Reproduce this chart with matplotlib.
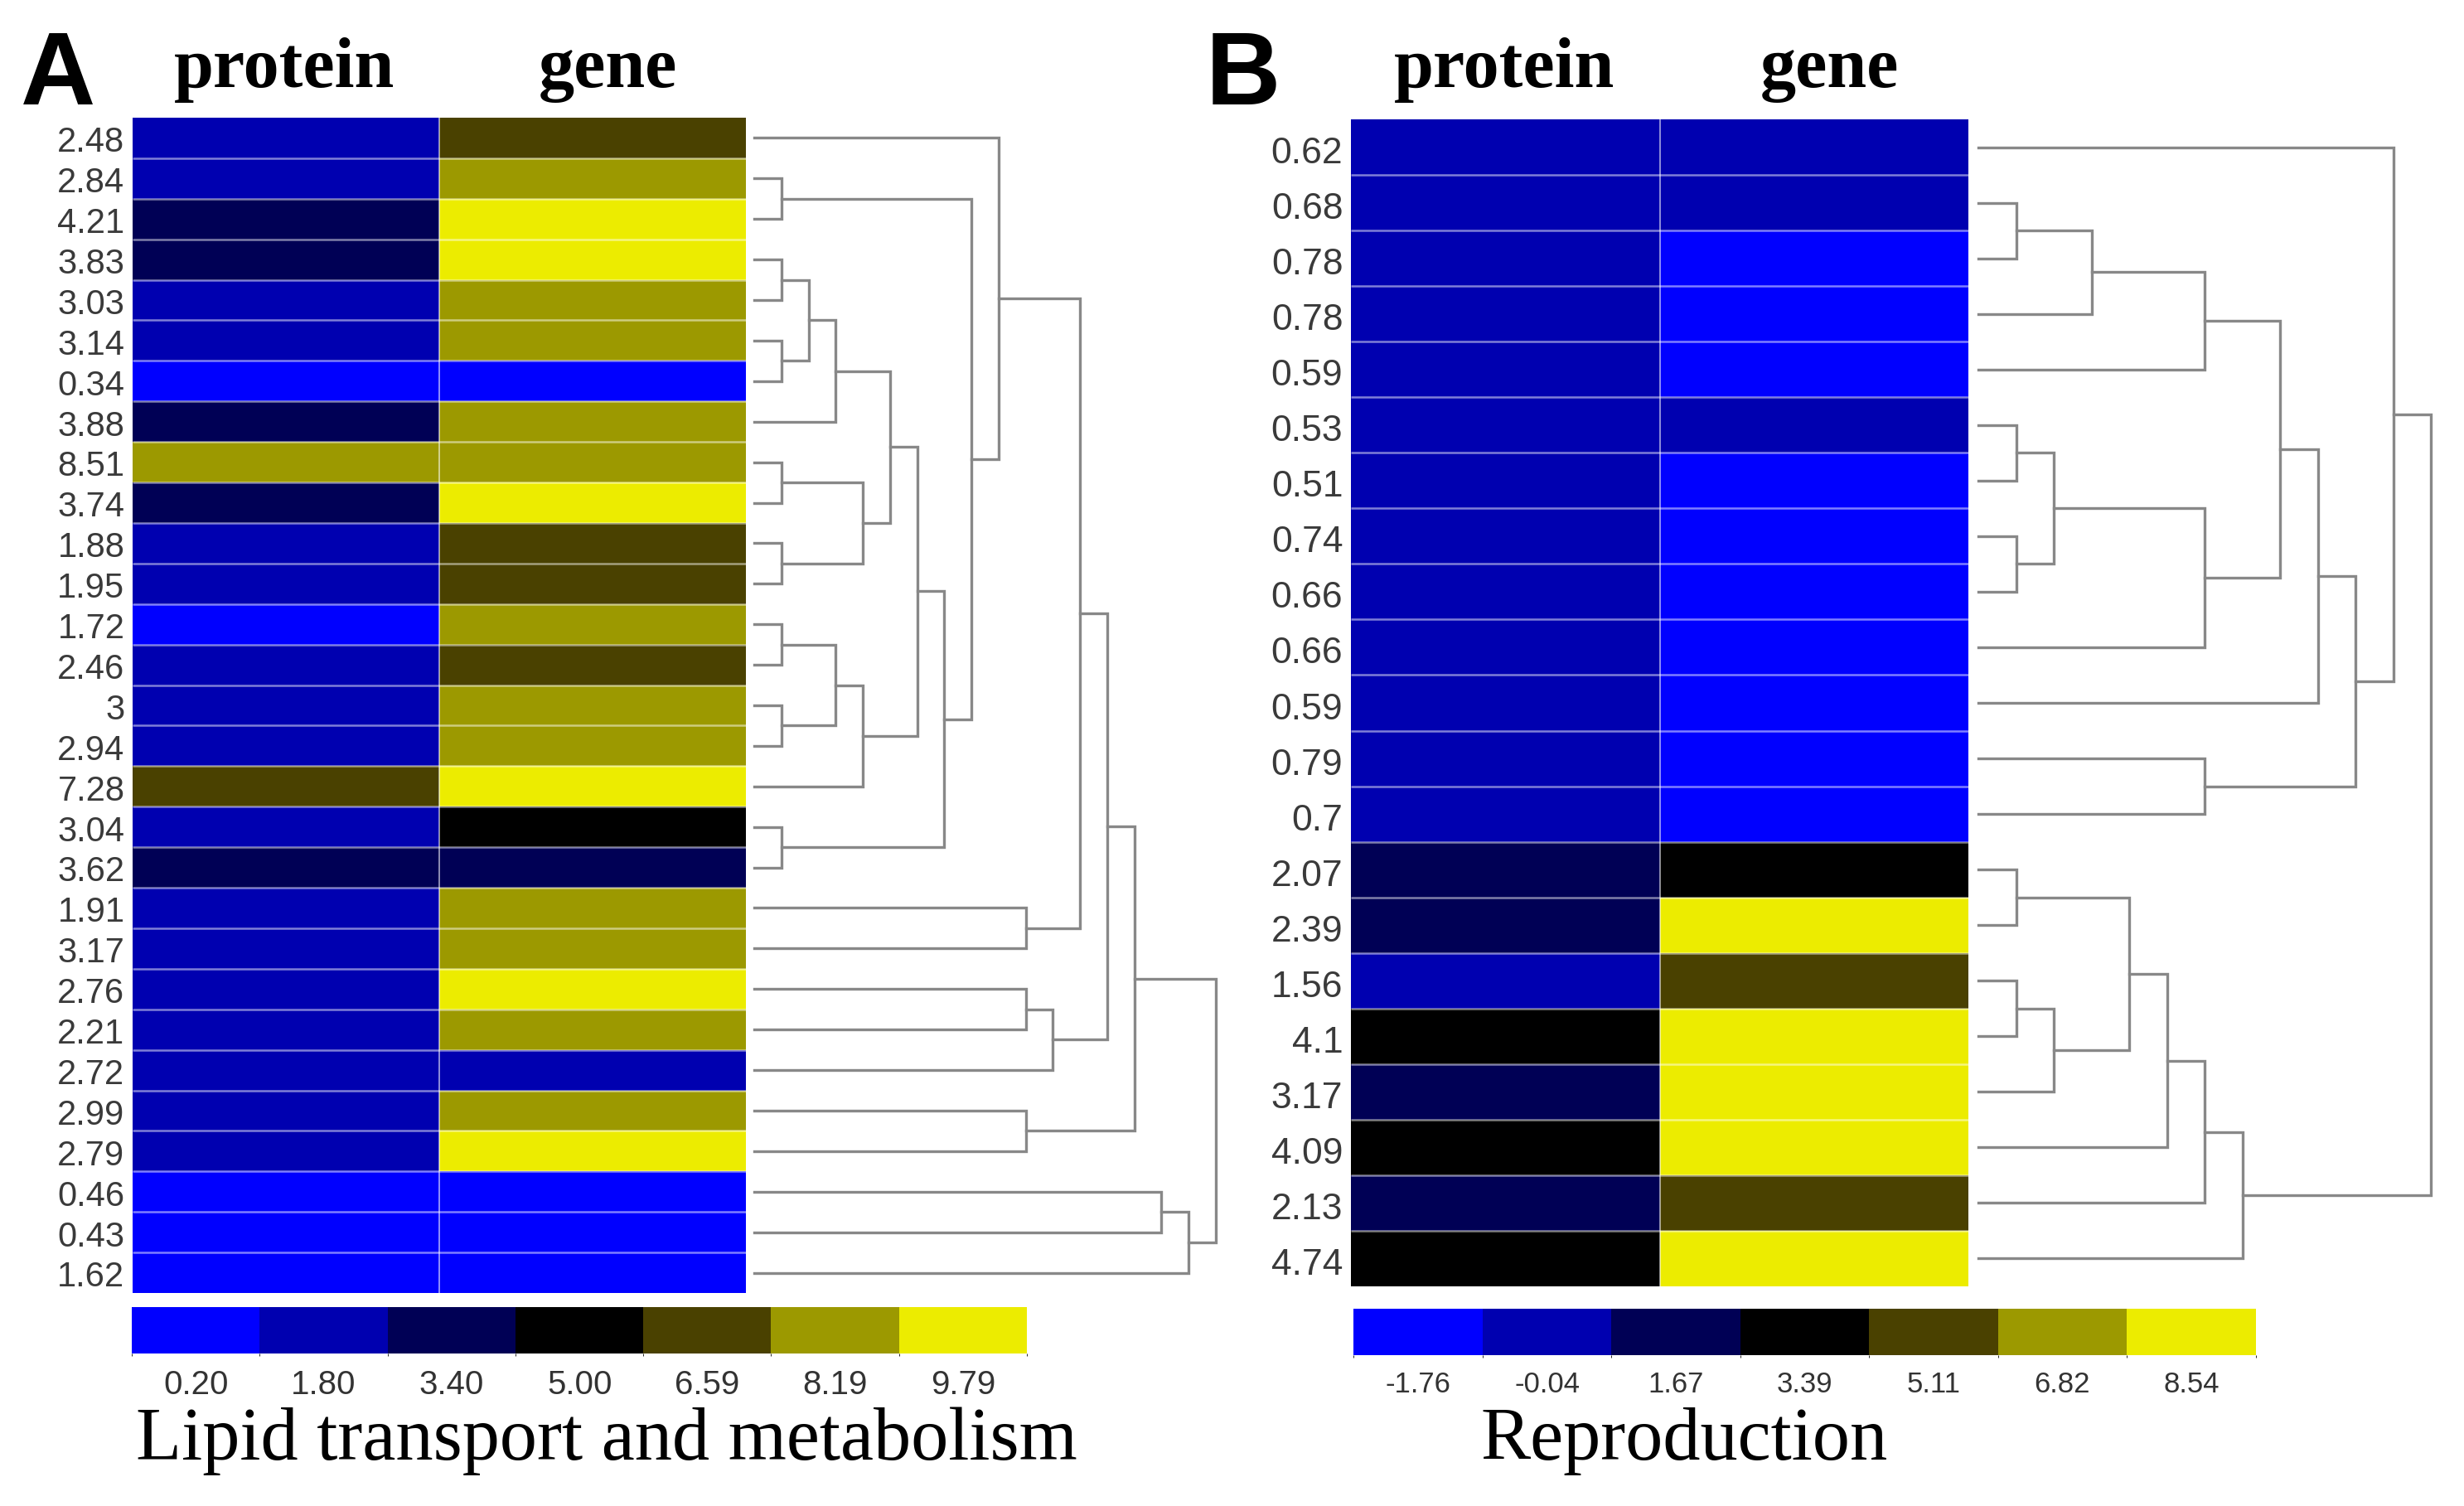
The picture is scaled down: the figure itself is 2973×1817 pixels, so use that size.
import matplotlib
matplotlib.use('Agg')
import matplotlib.pyplot as plt
import numpy as np
from matplotlib.colors import ListedColormap, BoundaryNorm
from matplotlib.cm import ScalarMappable

W, H = 2973, 1817

# 色（青 → 黒 → 黄）
COLORS = ['#0000FF', '#0000B0', '#000055', '#000000', '#4A4100', '#9C9900', '#ECEC00']

# ---- Panel A: Lipid transport and metabolism ----
labels_a = ['2.48', '2.84', '4.21', '3.83', '3.03', '3.14', '0.34', '3.88', '8.51', '3.74',
            '1.88', '1.95', '1.72', '2.46', '3', '2.94', '7.28', '3.04', '3.62', '1.91',
            '3.17', '2.76', '2.21', '2.72', '2.99', '2.79', '0.46', '0.43', '1.62']
protein_a = [1.80, 1.80, 3.40, 3.40, 1.80, 1.80, 0.20, 3.40, 8.19, 3.40,
             1.80, 1.80, 0.20, 1.80, 1.80, 1.80, 6.59, 1.80, 3.40, 1.80,
             1.80, 1.80, 1.80, 1.80, 1.80, 1.80, 0.20, 0.20, 0.20]
gene_a = [6.59, 8.19, 9.79, 9.79, 8.19, 8.19, 0.20, 8.19, 8.19, 9.79,
          6.59, 6.59, 8.19, 6.59, 8.19, 8.19, 9.79, 5.00, 3.40, 8.19,
          8.19, 9.79, 8.19, 1.80, 8.19, 9.79, 0.20, 0.20, 0.20]
ticks_a = [0.20, 1.80, 3.40, 5.00, 6.59, 8.19, 9.79]
tick_labels_a = ['0.20', '1.80', '3.40', '5.00', '6.59', '8.19', '9.79']
# (左, 右, 高さ) ; 29以降はクラスタ番号
merges_a = [(1, 2, 1), (3, 4, 1), (5, 6, 1), (30, 31, 2), (32, 7, 3),
            (8, 9, 1), (10, 11, 1), (34, 35, 4), (33, 36, 5), (12, 13, 1),
            (14, 15, 1), (38, 39, 3), (40, 16, 4), (37, 41, 6), (17, 18, 1),
            (42, 43, 7), (29, 44, 8), (0, 45, 9), (19, 20, 10), (46, 47, 12),
            (21, 22, 10), (49, 23, 11), (48, 50, 13), (24, 25, 10), (51, 52, 14),
            (26, 27, 15), (54, 28, 16), (53, 55, 17)]

# ---- Panel B: Reproduction ----
labels_b = ['0.62', '0.68', '0.78', '0.78', '0.59', '0.53', '0.51', '0.74', '0.66', '0.66',
            '0.59', '0.79', '0.7', '2.07', '2.39', '1.56', '4.1', '3.17', '4.09', '2.13', '4.74']
protein_b = [-0.04, -0.04, -0.04, -0.04, -0.04, -0.04, -0.04, -0.04, -0.04, -0.04,
             -0.04, -0.04, -0.04, 1.67, 1.67, -0.04, 3.39, 1.67, 3.39, 1.67, 3.39]
gene_b = [-0.04, -0.04, -1.76, -1.76, -1.76, -0.04, -1.76, -1.76, -1.76, -1.76,
          -1.76, -1.76, -1.76, 3.39, 8.54, 5.11, 8.54, 8.54, 8.54, 5.11, 8.54]
ticks_b = [-1.76, -0.04, 1.67, 3.39, 5.11, 6.82, 8.54]
tick_labels_b = ['-1.76', '-0.04', '1.67', '3.39', '5.11', '6.82', '8.54']
merges_b = [(1, 2, 1), (21, 3, 3), (22, 4, 6), (5, 6, 1), (7, 8, 1),
            (24, 25, 2), (26, 9, 6), (23, 27, 8), (28, 10, 9), (11, 12, 6),
            (29, 30, 10), (0, 31, 11), (13, 14, 1), (15, 16, 1), (34, 17, 2),
            (33, 35, 4), (36, 18, 5), (37, 19, 6), (38, 20, 7), (32, 39, 12)]


def box(x0, y0, x1, y1):
    """ピクセル座標 → figure 比率"""
    return [x0 / W, 1 - y1 / H, (x1 - x0) / W, (y1 - y0) / H]


def make_norm(ticks):
    t = np.array(ticks)
    step = np.diff(t)
    edges = np.concatenate([[t[0] - step[0] / 2], (t[:-1] + t[1:]) / 2, [t[-1] + step[-1] / 2]])
    return BoundaryNorm(edges, len(COLORS)), edges


def draw_heatmap(fig, rect, labels, protein, gene, ticks, label_size, label_dy):
    cmap = ListedColormap(COLORS)
    norm, _ = make_norm(ticks)
    n = len(labels)
    ax = fig.add_axes(rect)
    data = np.column_stack([protein, gene])
    ax.pcolormesh(np.arange(3), np.arange(n + 1), data, cmap=cmap, norm=norm)
    ax.hlines(np.arange(1, n), 0, 2, colors='white', alpha=0.5, lw=1.8)
    ax.vlines(1, 0, n, colors='white', alpha=0.6, lw=1.3)
    ax.set_xlim(0, 2)
    ax.set_ylim(n, 0)
    ax.axis('off')
    tr = ax.get_yaxis_transform()
    for i, lab in enumerate(labels):
        ax.text(-0.013, i + 0.5 + label_dy, lab, transform=tr, ha='right', va='center',
                fontsize=label_size, color='#3a3a3a', family='Liberation Sans')
    return ax


def draw_dendrogram(fig, rect, merges, n, hmax):
    ax = fig.add_axes(rect)
    pos = {i: (0.0, i + 0.5) for i in range(n)}
    for k, (a, b, h) in enumerate(merges):
        ha, ya = pos[a]
        hb, yb = pos[b]
        ax.plot([ha, h, h, hb], [ya, ya, yb, yb], color='#888888', lw=2.4,
                solid_joinstyle='miter', clip_on=False)
        pos[n + k] = (h, (ya + yb) / 2)
    ax.set_xlim(0, hmax)
    ax.set_ylim(n, 0)
    ax.axis('off')


def draw_colorbar(fig, rect, ticks, tick_labels, size, pad):
    cmap = ListedColormap(COLORS)
    norm, edges = make_norm(ticks)
    cax = fig.add_axes(rect)
    sm = ScalarMappable(norm=norm, cmap=cmap)
    cb = fig.colorbar(sm, cax=cax, orientation='horizontal', boundaries=edges, ticks=ticks)
    cb.outline.set_visible(False)
    cax.set_xticklabels(tick_labels)
    cax.tick_params(length=0, pad=pad, labelsize=size, labelcolor='#333333')
    for t in cax.get_xticklabels():
        t.set_family('Liberation Sans')


fig = plt.figure(figsize=(W / 100, H / 100), dpi=100)
fig.patch.set_facecolor('white')

# Panel A
draw_heatmap(fig, box(160, 142, 900, 1560), labels_a, protein_a, gene_a, ticks_a, 30, 0.12)
draw_dendrogram(fig, box(910, 142, 1467, 1560), merges_a, len(labels_a), 17)
draw_colorbar(fig, box(159, 1577, 1239, 1633), ticks_a, tick_labels_a, 29, 14)
fig.text(25 / W, 1 - 126 / H, 'A', fontsize=90, fontweight='bold', family='Liberation Sans', va='baseline')
fig.text(343 / W, 1 - 105 / H, 'protein', fontsize=62, fontweight='bold', family='Liberation Serif',
         ha='center', va='baseline')
fig.text(733 / W, 1 - 105 / H, 'gene', fontsize=62, fontweight='bold', family='Liberation Serif',
         ha='center', va='baseline')
fig.text(732 / W, 1 - 1739 / H, 'Lipid transport and metabolism', fontsize=65,
         family='Liberation Serif', ha='center', va='center')

# Panel B
draw_heatmap(fig, box(1630, 144, 2375, 1552), labels_b, protein_b, gene_b, ticks_b, 32, 0.12)
draw_dendrogram(fig, box(2387, 144, 2933, 1552), merges_b, len(labels_b), 12)
draw_colorbar(fig, box(1633, 1579, 2722, 1635), ticks_b, tick_labels_b, 25, 14)
fig.text(1455 / W, 1 - 126 / H, 'B', fontsize=90, fontweight='bold', family='Liberation Sans', va='baseline')
fig.text(1815 / W, 1 - 105 / H, 'protein', fontsize=62, fontweight='bold', family='Liberation Serif',
         ha='center', va='baseline')
fig.text(2207 / W, 1 - 105 / H, 'gene', fontsize=62, fontweight='bold', family='Liberation Serif',
         ha='center', va='baseline')
fig.text(2032 / W, 1 - 1739 / H, 'Reproduction', fontsize=65,
         family='Liberation Serif', ha='center', va='center')

fig.savefig('out.png', dpi=100, facecolor='white')
plt.close(fig)
